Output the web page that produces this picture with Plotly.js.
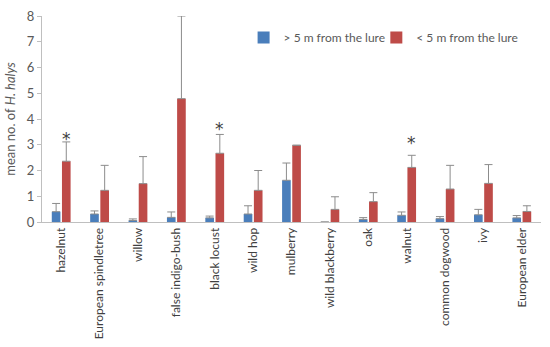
<!DOCTYPE html>
<html>
<head>
<meta charset="utf-8">
<script src="https://cdn.plot.ly/plotly-3.0.1.min.js"></script>
<style>html,body{margin:0;padding:0;background:#fff;}#chart{width:550px;height:347px;}</style>
</head>
<body>
<div id="chart"></div>
<script>
const categories = ["hazelnut","European spindletree","willow","false indigo-bush","black locust","wild hop","mulberry","wild blackberry","oak","walnut","common dogwood","ivy","European elder"];
const farValues = [0.40,0.31,0.06,0.18,0.16,0.31,1.62,0,0.10,0.26,0.13,0.28,0.16];
const farErr = [0.32,0.12,0.06,0.21,0.07,0.32,0.67,0,0.07,0.13,0.08,0.21,0.09];
const nearValues = [2.36,1.23,1.49,4.79,2.67,1.23,2.98,0.49,0.79,2.12,1.28,1.50,0.41];
const nearErr = [0.75,0.97,1.05,3.21,0.73,0.77,0,0.49,0.35,0.47,0.92,0.73,0.22];
const starCategories = ["hazelnut","black locust","walnut"];
const starY = [3.37,3.75,3.24];
const seriesNames = ["> 5 m from the lure","< 5 m from the lure"];

const errStyle = {color:"#8c8c8c", thickness:1, width:4};
const traces = [
  {type:"bar", name:seriesNames[0], x:categories, y:farValues, legend:"legend",
   marker:{color:"#4a7ebb", line:{width:0}},
   error_y:Object.assign({type:"data", symmetric:false, array:farErr, arrayminus:farErr.map(()=>0)}, errStyle)},
  {type:"bar", name:seriesNames[1], x:categories, y:nearValues, legend:"legend2",
   marker:{color:"#be4b48", line:{width:0}},
   error_y:Object.assign({type:"data", symmetric:false, array:nearErr, arrayminus:nearErr.map(()=>0)}, errStyle)}
];

const annotations = starCategories.map((c,i)=>({
  x:c, y:starY[i], xref:"x", yref:"y", text:"*", showarrow:false,
  xshift:5, yanchor:"middle", yshift:-4, font:{family:"'DejaVu Sans', sans-serif", size:17, color:"#404040"}
}));

const legendBase = {orientation:"h", y:0.896, xanchor:"left", yanchor:"middle",
    font:{size:12, color:"#595959"}, bgcolor:"rgba(0,0,0,0)", itemwidth:30};

const layout = {
  width:550, height:347,
  margin:{l:42, r:9, t:16, b:125},
  paper_bgcolor:"#fff", plot_bgcolor:"#fff",
  font:{family:"Lato, 'Open Sans', sans-serif", color:"#595959", size:12},
  barmode:"group", bargap:0.47, bargroupgap:0.15,
  showlegend:true,
  legend:Object.assign({x:0.404}, legendBase),
  legend2:Object.assign({x:0.67}, legendBase),
  xaxis:{type:"category", tickangle:-90, showline:true, linecolor:"#bfbfbf", linewidth:1,
    ticks:"", tickfont:{size:12, color:"#404040"}, showgrid:false, zeroline:false},
  yaxis:{range:[0,8], dtick:1, showline:true, linecolor:"#bfbfbf", linewidth:1,
    ticks:"outside", ticklen:4, tickcolor:"#bfbfbf", showgrid:false, zeroline:false,
    tickfont:{size:13, color:"#595959"},
    title:{text:"mean no. of <i>H. halys</i>", font:{size:13, color:"#595959"}, standoff:8}},
  annotations:annotations
};
Plotly.newPlot("chart", traces, layout, {displayModeBar:false, staticPlot:true});
</script>
</body>
</html>
